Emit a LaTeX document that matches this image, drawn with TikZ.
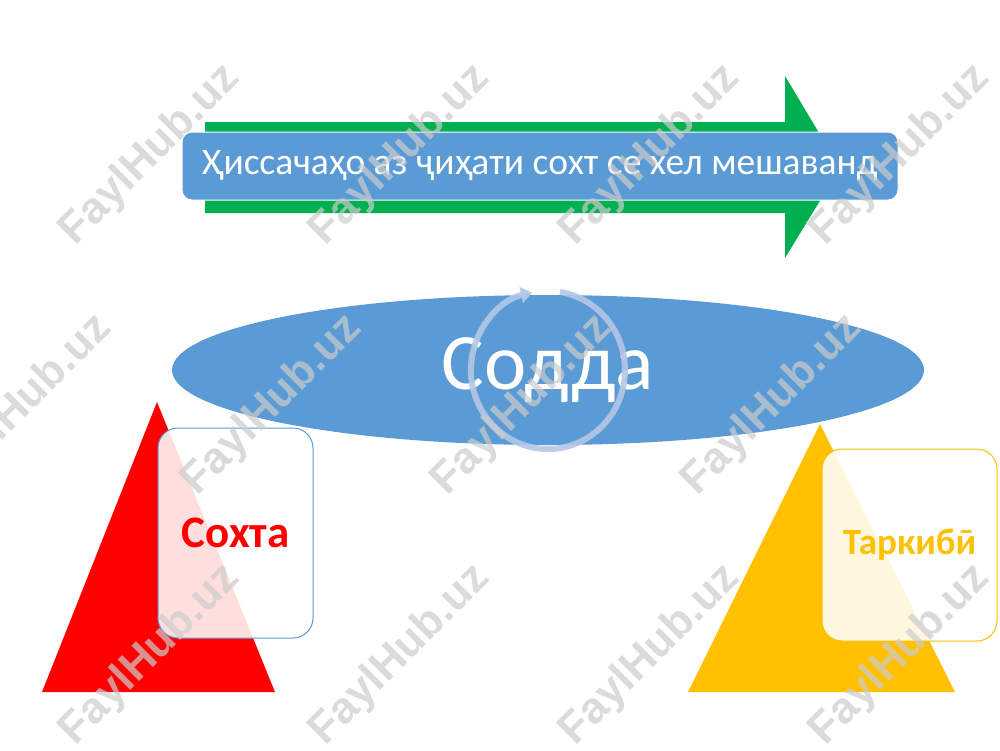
\documentclass[tikz,border=0pt]{standalone}
\usepackage{fontspec}
\setmainfont{Carlito}
\newfontfamily\wmfont{Liberation Sans}
\usetikzlibrary{arrows.meta,shapes.geometric}
\definecolor{accblue}{HTML}{5B9BD5}
\definecolor{accgreen}{HTML}{00B050}
\definecolor{accred}{HTML}{FF0000}
\definecolor{accgold}{HTML}{FFC000}
\definecolor{cyclecol}{HTML}{B4C7E7}
\tikzset{
  titlebox/.style={draw=white, line width=1pt, fill=accblue, rounded corners=10pt,
    minimum width=716pt, minimum height=68pt, text=white, font=\fontsize{37.5}{40}\selectfont, inner sep=0pt},
  bigoval/.style={ellipse, fill=accblue, minimum width=752pt, minimum height=150pt, inner sep=0pt,
    text=white, font=\fontsize{80}{90}\selectfont},
  labelbox/.style={rounded corners=20pt, line width=1pt, fill=white, fill opacity=0.87,
    text opacity=1, inner sep=0pt, font=\bfseries\fontsize{#1}{#1}\selectfont},
  watermark/.style={rotate=45, text=black!20, text opacity=0.7, font=\wmfont\bfseries\fontsize{44}{44}\selectfont}
}
\begin{document}
\begin{tikzpicture}[x=1pt,y=-1pt]
\useasboundingbox (0,0) rectangle (1000,750);
% green arrow
\fill[accgreen] (205,122) -- (785,122) -- (785,76) -- (840,168) -- (785,258) -- (785,213) -- (205,213) -- cycle;
% title box
\node[titlebox] (title) at (540,166) {Ҳиссачаҳо аз ҷиҳати сохт се хел мешаванд};
% oval
\node[bigoval] (oval) at (548,370) {Содда};
% cycle arrow
\draw[cyclecol, line width=6pt, draw opacity=0.9, -{Triangle[length=11pt,width=16pt]}]
  (560,292) arc[start angle=-81, end angle=258, x radius=77, y radius=79];
% red triangle
\fill[accred] (157,402) -- (275,692) -- (42,692) -- cycle;
\node[labelbox=45, draw=accblue, text=accred, minimum width=155pt, minimum height=210pt] (sokhta) at (235.5,533) {Сохта};
% gold triangle
\fill[accgold] (820,424) -- (955,692) -- (688,692) -- cycle;
\node[labelbox=37, draw=accgold, text=accgold, minimum width=175pt, minimum height=192pt] (tarkibi) at (909.5,545) {Таркибӣ};
% watermarks
\foreach \x in {150,400,650,900} {
  \node[watermark] at (\x,155) {FaylHub.uz};
  \node[watermark] at (\x,655) {FaylHub.uz};
}
\foreach \x in {22,272,522,772} {
  \node[watermark] at (\x,405) {FaylHub.uz};
}
\end{tikzpicture}
\end{document}
